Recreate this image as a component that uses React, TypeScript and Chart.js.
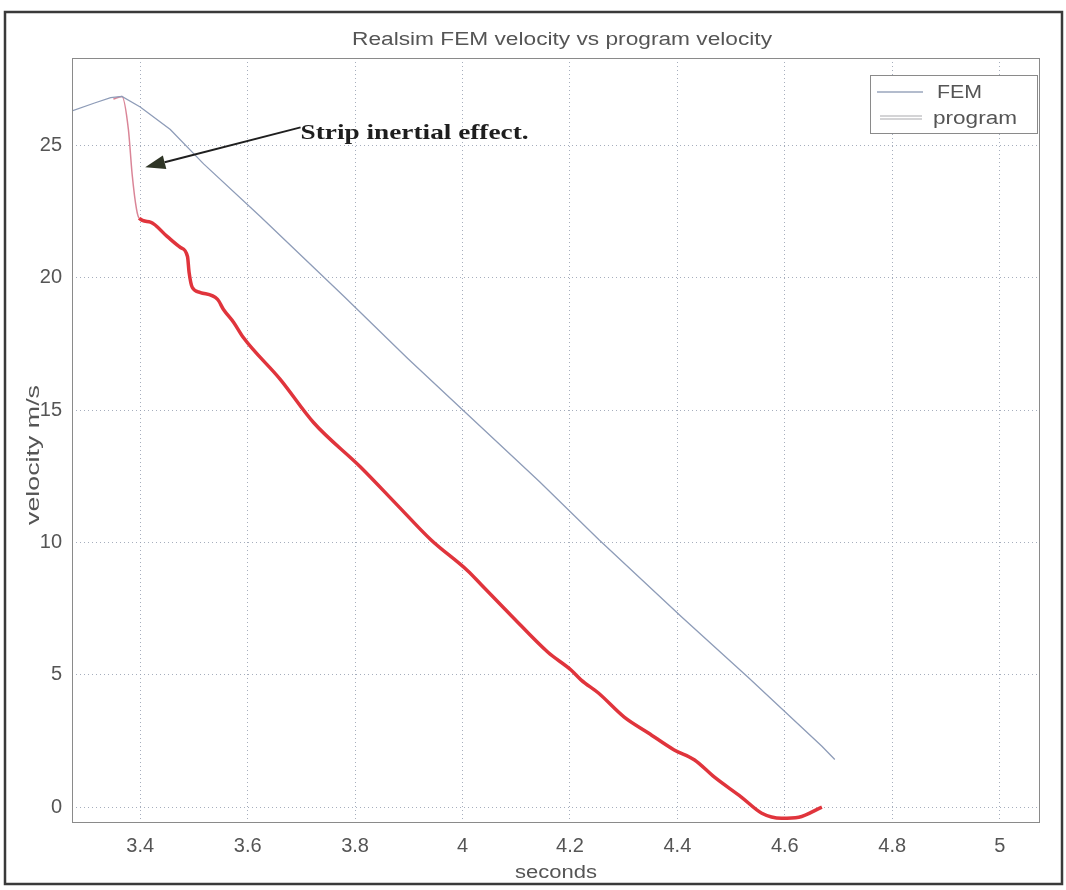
import React, { useEffect, useRef } from "react";
import { Chart, registerables } from "chart.js";
Chart.register(...registerables);

// ---- data ----
const femX = [3.273, 3.315, 3.345, 3.366, 3.4, 3.456, 3.518, 3.624, 3.779, 3.898, 4.006, 4.143, 4.254, 4.407, 4.532, 4.669, 4.693];
const femY = [26.3, 26.6, 26.8, 26.85, 26.45, 25.6, 24.3, 22.3, 19.3, 16.95, 14.9, 12.3, 10.1, 7.2, 4.9, 2.3, 1.8];

const progX = [3.35, 3.366, 3.378, 3.385, 3.393, 3.398, 3.419, 3.45, 3.475, 3.488, 3.491, 3.497, 3.512, 3.544, 3.555, 3.574, 3.592, 3.661, 3.723, 3.81, 3.879, 3.941, 4.01, 4.034, 4.09, 4.159, 4.202, 4.221, 4.253, 4.301, 4.346, 4.394, 4.432, 4.469, 4.519, 4.557, 4.594, 4.626, 4.669];
const progY = [26.75, 26.85, 25.6, 23.9, 22.6, 22.25, 22.1, 21.56, 21.14, 20.8, 20.2, 19.63, 19.44, 19.18, 18.8, 18.31, 17.74, 16.15, 14.52, 12.85, 11.4, 10.1, 8.92, 8.42, 7.25, 5.85, 5.18, 4.8, 4.31, 3.4, 2.8, 2.16, 1.78, 1.13, 0.38, -0.23, -0.42, -0.38, 0.0];

const xTicks = [3.4, 3.6, 3.8, 4, 4.2, 4.4, 4.6, 4.8, 5];
const yTicks = [0, 5, 10, 15, 20, 25];
const xRange = [3.273, 5.075];
const yRange = [-0.6, 28.3];

const titleText = "Realsim FEM velocity vs program velocity";
const xLabel = "seconds";
const yLabel = "velocity m/s";
const seriesNames = ["FEM", "program"];
const annotationText = "Strip inertial effect.";
const arrowTail = [3.6985, 25.68];
const arrowHead = [3.4093, 24.17];

const SANS = "'Liberation Sans', Arial, sans-serif";
const SERIF = "'Liberation Serif', 'Times New Roman', serif";

function fitText(
  ctx: CanvasRenderingContext2D,
  text: string,
  x: number,
  y: number,
  font: string,
  width: number,
  align: "center" | "left" = "center",
  rot = 0,
  color = "#555"
) {
  ctx.save();
  ctx.translate(x, y);
  ctx.rotate(rot);
  ctx.font = font;
  const w = ctx.measureText(text).width;
  ctx.scale(width / w, 1);
  ctx.textAlign = align;
  ctx.textBaseline = "middle";
  ctx.fillStyle = color;
  ctx.fillText(text, 0, 0);
  ctx.restore();
}

const decorPlugin = {
  id: "decor",
  afterDatasetsDraw(chart: any) {
    const ctx: CanvasRenderingContext2D = chart.ctx;
    const a = chart.chartArea;
    const xs = chart.scales.x;
    const ys = chart.scales.y;

    // plot box
    ctx.save();
    ctx.strokeStyle = "#8a8a8a";
    ctx.lineWidth = 1;
    ctx.strokeRect(a.left + 0.5, a.top + 0.5, a.right - a.left - 1, a.bottom - a.top - 1);
    ctx.restore();

    // outer scan frame
    ctx.save();
    ctx.strokeStyle = "#3a3a3a";
    ctx.lineWidth = 2.5;
    ctx.strokeRect(5, 12, 1057, 872);
    ctx.restore();

    // title and axis labels
    fitText(ctx, titleText, 562, 40, `18px ${SANS}`, 420);
    fitText(ctx, xLabel, 556, 873, `18px ${SANS}`, 82);
    fitText(ctx, yLabel, 34, 455, `18px ${SANS}`, 140, "center", -Math.PI / 2);

    // legend
    ctx.save();
    ctx.fillStyle = "#fff";
    ctx.fillRect(870, 75, 167, 58);
    ctx.strokeStyle = "#8a8a8a";
    ctx.lineWidth = 1;
    ctx.strokeRect(870.5, 75.5, 167, 58);
    ctx.strokeStyle = "#9aa6bd";
    ctx.lineWidth = 1.5;
    ctx.beginPath();
    ctx.moveTo(877, 92);
    ctx.lineTo(923, 92);
    ctx.stroke();
    ctx.strokeStyle = "#a9a9ad";
    ctx.lineWidth = 1.2;
    ctx.beginPath();
    ctx.moveTo(880, 116);
    ctx.lineTo(922, 116);
    ctx.moveTo(880, 119);
    ctx.lineTo(922, 119);
    ctx.stroke();
    ctx.restore();
    fitText(ctx, seriesNames[0], 937, 93, `18px ${SANS}`, 45, "left");
    fitText(ctx, seriesNames[1], 933, 119, `18px ${SANS}`, 84, "left");

    // annotation arrow
    const tx = xs.getPixelForValue(arrowTail[0]);
    const ty = ys.getPixelForValue(arrowTail[1]);
    const hx = xs.getPixelForValue(arrowHead[0]);
    const hy = ys.getPixelForValue(arrowHead[1]);
    const ang = Math.atan2(hy - ty, hx - tx);
    const L = 20;
    const W = 7;
    const bx = hx - L * Math.cos(ang);
    const by = hy - L * Math.sin(ang);
    ctx.save();
    ctx.strokeStyle = "#1f1f1f";
    ctx.lineWidth = 2;
    ctx.beginPath();
    ctx.moveTo(tx, ty);
    ctx.lineTo(bx, by);
    ctx.stroke();
    ctx.fillStyle = "#2f3526";
    ctx.beginPath();
    ctx.moveTo(hx, hy);
    ctx.lineTo(bx + W * Math.sin(ang), by - W * Math.cos(ang));
    ctx.lineTo(bx - W * Math.sin(ang), by + W * Math.cos(ang));
    ctx.closePath();
    ctx.fill();
    ctx.restore();
    fitText(ctx, annotationText, tx, ty + 6, `bold 22px ${SERIF}`, 228, "left", 0, "#1e1e1e");
  },
};

const fmt = (v: number) => String(Number(v.toFixed(1)));

export default function App() {
  const ref = useRef<HTMLCanvasElement | null>(null);
  useEffect(() => {
    if (!ref.current) return;
    const chart = new Chart(ref.current, {
      type: "scatter",
      data: {
        datasets: [
          {
            label: seriesNames[0],
            data: femX.map((x, i) => ({ x, y: femY[i] })),
            showLine: true,
            borderColor: "#8e9cb8",
            borderWidth: 1.3,
            pointRadius: 0,
            tension: 0,
          },
          {
            label: seriesNames[1],
            data: progX.map((x, i) => ({ x, y: progY[i] })),
            showLine: true,
            borderColor: "#e0343c",
            borderWidth: 3.5,
            pointRadius: 0,
            cubicInterpolationMode: "monotone",
            segment: {
              borderWidth: (c: any) => (c.p0DataIndex < 5 ? 1.5 : 3.5),
              borderColor: (c: any) => (c.p0DataIndex < 5 ? "rgba(214,120,140,0.9)" : "#e0343c"),
            },
          },
        ],
      },
      options: {
        responsive: false,
        animation: false,
        devicePixelRatio: 1,
        layout: { padding: { top: 58, right: 26, left: 0, bottom: 0 } },
        plugins: { legend: { display: false }, tooltip: { enabled: false }, title: { display: false } },
        scales: {
          x: {
            type: "linear",
            min: xRange[0],
            max: xRange[1],
            afterBuildTicks: (s: any) => {
              s.ticks = xTicks.map((v) => ({ value: v }));
            },
            afterFit: (s: any) => {
              s.height = 67;
            },
            ticks: {
              color: "#555",
              font: { family: SANS, size: 20 },
              padding: 11,
              maxRotation: 0,
              autoSkip: false,
              callback: (v: any) => fmt(Number(v)),
            },
            grid: { color: "rgba(150,160,178,0.85)", drawTicks: false, lineWidth: 1 },
            border: { display: false, dash: [1, 3] },
          },
          y: {
            type: "linear",
            min: yRange[0],
            max: yRange[1],
            afterBuildTicks: (s: any) => {
              s.ticks = yTicks.map((v) => ({ value: v }));
            },
            afterFit: (s: any) => {
              s.width = 72;
            },
            ticks: {
              color: "#555",
              font: { family: SANS, size: 20 },
              padding: 10,
              autoSkip: false,
              callback: (v: any) => fmt(Number(v)),
            },
            grid: { color: "rgba(150,160,178,0.85)", drawTicks: false, lineWidth: 1 },
            border: { display: false, dash: [1, 3] },
          },
        },
      },
      plugins: [decorPlugin],
    } as any);
    return () => chart.destroy();
  }, []);
  return (
    <div style={{ position: "absolute", left: 0, top: 0, width: 1066, height: 890, background: "#fff" }}>
      <canvas ref={ref} width={1066} height={890} style={{ width: 1066, height: 890, display: "block" }} />
    </div>
  );
}
